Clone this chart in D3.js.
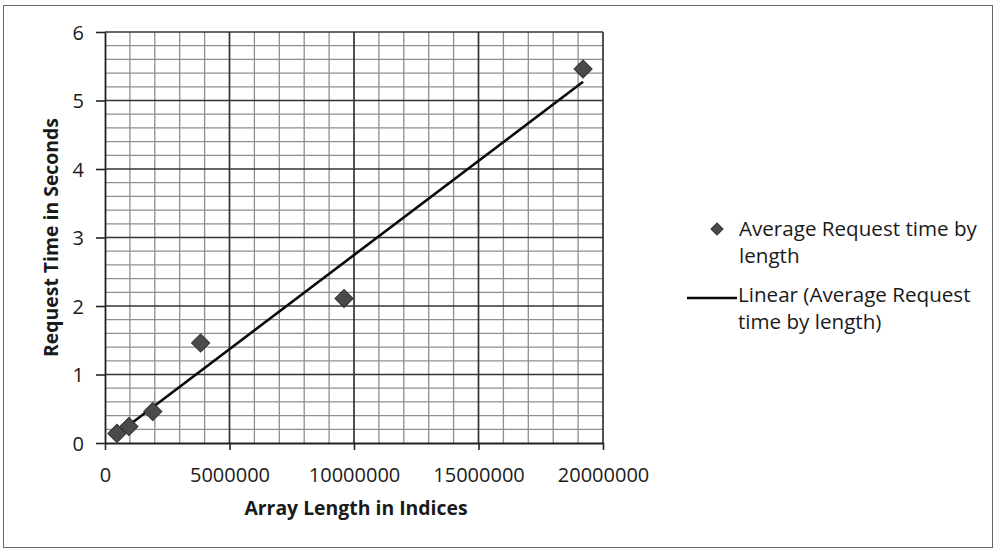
<!DOCTYPE html>
<html>
<head>
<meta charset="utf-8">
<script src="https://cdn.jsdelivr.net/npm/d3@7"></script>
<style>
  html, body { margin: 0; padding: 0; background: #fff; }
  svg { display: block; }
  text { font-family: "Open Sans", "DejaVu Sans", sans-serif; fill: #1a1a1a; }
</style>
</head>
<body>
<svg id="chart" width="994" height="550"></svg>
<script>
// ---- data ----
const arrayLengths = [480000, 960000, 1920000, 3840000, 9600000, 19200000];
const requestTimes = [0.14, 0.24, 0.46, 1.46, 2.11, 5.46];
const xTickValues = [0, 5000000, 10000000, 15000000, 20000000];
const yTickValues = [0, 1, 2, 3, 4, 5, 6];
const seriesName = ["Average Request time by", "length"];
const trendName = ["Linear (Average Request", "time by length)"];
const xTitle = "Array Length in Indices";
const yTitle = "Request Time in Seconds";

// ---- layout ----
const svg = d3.select("#chart");
const plot = { left: 105, right: 603, top: 32, bottom: 443 };

const x = d3.scaleLinear().domain([0, 20000000]).range([plot.left, plot.right]);
const y = d3.scaleLinear().domain([0, 6]).range([plot.bottom, plot.top]);

// outer chart border
svg.append("rect")
  .attr("x", 3.5).attr("y", 5.5).attr("width", 989).attr("height", 542)
  .attr("fill", "#fff").attr("stroke", "#6a6a6a").attr("stroke-width", 1);

// minor gridlines
const g = svg.append("g");
g.selectAll("line.vminor").data(d3.range(1000000, 20000000, 1000000).filter(v => v % 5000000 !== 0))
  .join("line").attr("class", "vminor")
  .attr("x1", d => x(d)).attr("x2", d => x(d))
  .attr("y1", plot.top).attr("y2", plot.bottom)
  .attr("stroke", "#8e8e8e").attr("stroke-width", 1.3);
g.selectAll("line.hminor").data(d3.range(1, 30).map(i => i * 0.2).filter(v => Math.abs(v - Math.round(v)) > 1e-6))
  .join("line").attr("class", "hminor")
  .attr("x1", plot.left).attr("x2", plot.right)
  .attr("y1", d => y(d)).attr("y2", d => y(d))
  .attr("stroke", "#8e8e8e").attr("stroke-width", 1.3);

// major gridlines
g.selectAll("line.vmajor").data(xTickValues.slice(1))
  .join("line").attr("class", "vmajor")
  .attr("x1", d => x(d)).attr("x2", d => x(d))
  .attr("y1", plot.top).attr("y2", plot.bottom)
  .attr("stroke", "#333").attr("stroke-width", 1.7);
g.selectAll("line.hmajor").data(yTickValues.slice(1))
  .join("line").attr("class", "hmajor")
  .attr("x1", plot.left).attr("x2", plot.right)
  .attr("y1", d => y(d)).attr("y2", d => y(d))
  .attr("stroke", "#333").attr("stroke-width", 1.7);

// axes
const xAxis = svg.append("g").attr("transform", `translate(0,${plot.bottom})`)
  .call(d3.axisBottom(x).tickValues(xTickValues).tickFormat(d3.format("d")).tickSize(7).tickSizeOuter(0));
const yAxis = svg.append("g").attr("transform", `translate(${plot.left},0)`)
  .call(d3.axisLeft(y).tickValues(yTickValues).tickFormat(d3.format("d")).tickSize(9).tickSizeOuter(0));
[xAxis, yAxis].forEach(a => {
  a.select(".domain").attr("stroke", "#222").attr("stroke-width", 1.8);
  a.selectAll(".tick line").attr("stroke", "#222").attr("stroke-width", 1.6);
  a.selectAll(".tick text").style("font-family", "'Open Sans', sans-serif")
    .style("font-size", "20px").attr("fill", "#1a1a1a");
});
xAxis.selectAll(".tick text").attr("y", 39).attr("dy", 0);
yAxis.selectAll(".tick text").attr("x", -21).attr("dy", "0.36em");

// trendline (least squares)
const mx = d3.mean(arrayLengths), my = d3.mean(requestTimes);
const sxy = d3.sum(arrayLengths.map((v, i) => (v - mx) * (requestTimes[i] - my)));
const sxx = d3.sum(arrayLengths.map(v => (v - mx) * (v - mx)));
const slope = sxy / sxx, icpt = my - slope * mx;
const xMin = d3.min(arrayLengths), xMax = d3.max(arrayLengths);
svg.append("line")
  .attr("x1", x(xMin)).attr("y1", y(slope * xMin + icpt))
  .attr("x2", x(xMax)).attr("y2", y(slope * xMax + icpt))
  .attr("stroke", "#0a0a0a").attr("stroke-width", 2.6);

// markers
const diamond = d3.symbol(d3.symbolSquare, 165);
svg.selectAll("path.pt").data(arrayLengths.map((v, i) => [v, requestTimes[i]]))
  .join("path").attr("class", "pt")
  .attr("d", diamond)
  .attr("transform", d => `translate(${x(d[0])},${y(d[1])}) rotate(45)`)
  .attr("fill", "#4a4a4a").attr("stroke", "#333").attr("stroke-width", 1);

// axis titles
svg.append("text").attr("x", 356).attr("y", 515)
  .attr("text-anchor", "middle").style("font-size", "19.4px").style("font-weight", "bold")
  .text(xTitle);
svg.append("text").attr("transform", `translate(58,${(plot.top + plot.bottom) / 2}) rotate(-90)`)
  .attr("text-anchor", "middle").style("font-size", "19.4px").style("font-weight", "bold")
  .text(yTitle);

// legend
const lg = svg.append("g");
lg.append("path").attr("d", d3.symbol(d3.symbolSquare, 72))
  .attr("transform", "translate(717,229) rotate(45)")
  .attr("fill", "#4a4a4a").attr("stroke", "#333").attr("stroke-width", 1);
const lt1 = lg.append("text").style("font-size", "20.6px");
lt1.selectAll("tspan").data(seriesName).join("tspan")
  .attr("x", 739).attr("y", (d, i) => 236 + i * 27).text(d => d);
lg.append("line").attr("x1", 687).attr("x2", 737).attr("y1", 298).attr("y2", 298)
  .attr("stroke", "#0a0a0a").attr("stroke-width", 2.6);
const lt2 = lg.append("text").style("font-size", "20.6px");
lt2.selectAll("tspan").data(trendName).join("tspan")
  .attr("x", 738).attr("y", (d, i) => 302 + i * 27).text(d => d);
</script>
</body>
</html>
